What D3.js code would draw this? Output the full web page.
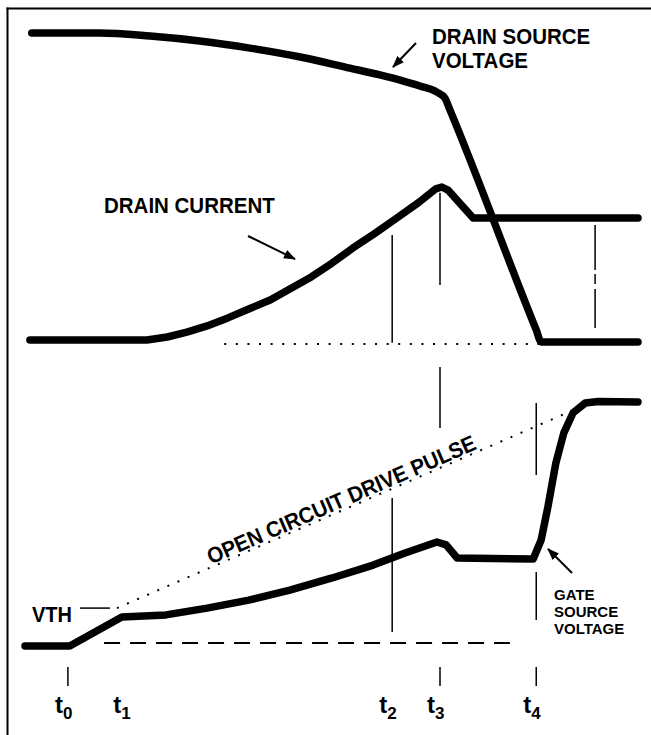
<!DOCTYPE html>
<html><head><meta charset="utf-8">
<script src="https://cdn.jsdelivr.net/npm/d3@7"></script>
<style>
body{margin:0;background:#fff}
svg{display:block}
text{font-family:"Liberation Sans",Arial,Helvetica,sans-serif;font-weight:bold;fill:#000}
</style>
</head><body>
<svg id="chart" width="651" height="735"></svg>
<script>
// ---- data (time in arbitrary units 0..100, levels in % of full swing) ----
const timeLabels = ["0", "1", "2", "3", "4"];
const timeMarks  = [7.0, 16.5, 59.9, 67.7, 83.4];

const vdsTime  = [1.1, 12.2, 20.4, 28.5, 36.7, 44.9, 53.0, 57.9, 61.2, 64.4, 67.2, 68.5, 69.2, 83.4, 84.2, 100];
const vdsValue = [100, 100, 99.0, 97.4, 95.1, 92.2, 88.6, 86.4, 84.7, 82.8, 80.8, 78.9, 75.6, 3.6, -0.3, -0.3];

const idTime  = [0.8, 19.9, 23.2, 26.4, 29.7, 33.1, 36.5, 40.0, 43.2, 46.7, 50.1, 53.5, 56.9, 60.2, 64.3, 67.0, 68.0, 69.0, 73.1, 100];
const idValue = [0.3, 0.3, 1.3, 2.9, 4.9, 7.5, 10.4, 13.3, 16.9, 20.8, 25.3, 30.2, 34.7, 39.3, 45.1, 49.4, 50.0, 49.0, 39.9, 39.9];

const vgsTime  = [0, 7.3, 15.8, 23.0, 29.7, 36.5, 43.2, 50.1, 56.8, 62.0, 67.2, 68.7, 70.5, 82.9, 84.2, 85.3, 86.6, 87.9, 89.4, 91.4, 93.5, 100];
const vgsValue = [0, 0, 11.9, 12.8, 15.6, 18.9, 23.0, 28.0, 33.3, 38.3, 42.8, 41.6, 36.2, 35.8, 43.6, 57.2, 75.3, 87.7, 95.9, 100, 100.6, 100.4];

const vthLevel = 15.6;
const driveTime  = [15.0, 90.2];
const driveValue = [15.6, 97.9];
const baseDashTime = [12.9, 79.1];
const baseDashLevel = 1.2;
const idBaseDotTime = [32.5, 84.0];
const idBaseDotLevel = -1.0;
const loadMarkTime = 93.0;
const loadMarkRange = [37.7, 4.2];

// vertical marker segments: [time, from, to]
const upperMarks = [[59.9, 34.4, -0.6], [67.7, 48.1, 18.2]];
const lowerMarks = [[59.9, 60.9, 5.8], [67.7, 114.8, 89.7], [83.4, 100, 70.4], [83.4, 30.5, 10.7]];
const bottomTicks = [7.0, 67.7, 83.4];

// ---- scales ----
const svg = d3.select("#chart");
const x = d3.scaleLinear().domain([0, 100]).range([25, 638]);
const yU = d3.scaleLinear().domain([0, 100]).range([341, 33]);
const yL = d3.scaleLinear().domain([0, 100]).range([646, 403]);

// frame
svg.append("line").attr("x1", 6.5).attr("x2", 651).attr("y1", 8.5).attr("y2", 8.5).attr("stroke", "#000").attr("stroke-width", 2);
svg.append("line").attr("x1", 7.5).attr("x2", 7.5).attr("y1", 7.5).attr("y2", 735).attr("stroke", "#000").attr("stroke-width", 2);

// arrow marker
svg.append("defs").append("marker")
  .attr("id", "arr").attr("markerUnits", "userSpaceOnUse")
  .attr("viewBox", "0 0 12 10").attr("refX", 11).attr("refY", 5)
  .attr("markerWidth", 12).attr("markerHeight", 10).attr("orient", "auto")
  .append("path").attr("d", "M0,0.5 L12,5 L0,9.5 Z").attr("fill", "#000");

const thin = (x1, y1, x2, y2, w = 1.5) => svg.append("line")
  .attr("x1", x1).attr("y1", y1).attr("x2", x2).attr("y2", y2)
  .attr("stroke", "#000").attr("stroke-width", w);

upperMarks.forEach(([t, a, b]) => thin(x(t), yU(a), x(t), yU(b)));
lowerMarks.forEach(([t, a, b]) => thin(x(t), yL(a), x(t), yL(b)));
bottomTicks.forEach(t => thin(x(t), 667, x(t), 686));

thin(x(idBaseDotTime[0]), yU(idBaseDotLevel), x(idBaseDotTime[1]), yU(idBaseDotLevel), 2)
  .attr("stroke-dasharray", "2,9.6");
thin(x(loadMarkTime), yU(loadMarkRange[0]), x(loadMarkTime), yU(loadMarkRange[1]))
  .attr("stroke-dasharray", "45,4,10,5,60");
thin(x(baseDashTime[0]), yL(baseDashLevel), x(baseDashTime[1]), yL(baseDashLevel), 2)
  .attr("stroke-dasharray", "16,10");
const d0 = [x(driveTime[0]), yL(driveValue[0])], d1 = [x(driveTime[1]), yL(driveValue[1])];
thin(d0[0], d0[1], d1[0], d1[1], 2).attr("stroke-dasharray", "2,9");
thin(80, yL(vthLevel), 110, yL(vthLevel), 1.5);

// ---- main curves ----
const drawCurve = (ts, vs, ys, curve) => svg.append("path")
  .datum(ts.map((t, i) => [t, vs[i]]))
  .attr("d", d3.line().x(d => x(d[0])).y(d => ys(d[1])).curve(curve))
  .attr("fill", "none").attr("stroke", "#000").attr("stroke-width", 7.5)
  .attr("stroke-linecap", "round").attr("stroke-linejoin", "round");

drawCurve(vdsTime, vdsValue, yU, d3.curveMonotoneX);
drawCurve(idTime, idValue, yU, d3.curveLinear);
drawCurve(vgsTime, vgsValue, yL, d3.curveLinear);

// ---- annotations ----
const label = (txt, px, py, size, sy = 1.07) => svg.append("text")
  .attr("transform", `translate(${px},${py}) scale(1,${sy})`)
  .attr("font-size", size).text(txt);

label("DRAIN SOURCE", 432, 44, 20.5);
label("VOLTAGE", 432, 68, 20.5);
thin(416, 43, 393, 67, 2).attr("marker-end", "url(#arr)");

label("DRAIN CURRENT", 104, 213, 20.5);
thin(248, 236, 295, 259, 2).attr("marker-end", "url(#arr)");

label("GATE", 554, 600, 15, 1);
label("SOURCE", 554, 617, 15, 1);
label("VOLTAGE", 554, 634, 15, 1);
thin(572, 573, 548, 549, 2).attr("marker-end", "url(#arr)");

label("VTH", 32, 622, 20);

const ang = Math.atan2(d1[1] - d0[1], d1[0] - d0[0]);
const tx = 212, tyLine = d0[1] + (tx - d0[0]) * Math.tan(ang);
const off = 2.5;
svg.append("text")
  .attr("transform", `translate(${tx + Math.sin(ang) * off},${tyLine - Math.cos(ang) * off}) rotate(${ang * 180 / Math.PI}) scale(1,1.07)`)
  .attr("font-size", 20.6).text("OPEN CIRCUIT DRIVE PULSE");

timeMarks.forEach((t, i) => {
  const tt = svg.append("text").attr("x", x(t) - 13).attr("y", 713).attr("font-size", 24);
  tt.append("tspan").text("t");
  tt.append("tspan").attr("dy", 6).attr("font-size", 17).text(timeLabels[i]);
});
</script>
</body></html>
